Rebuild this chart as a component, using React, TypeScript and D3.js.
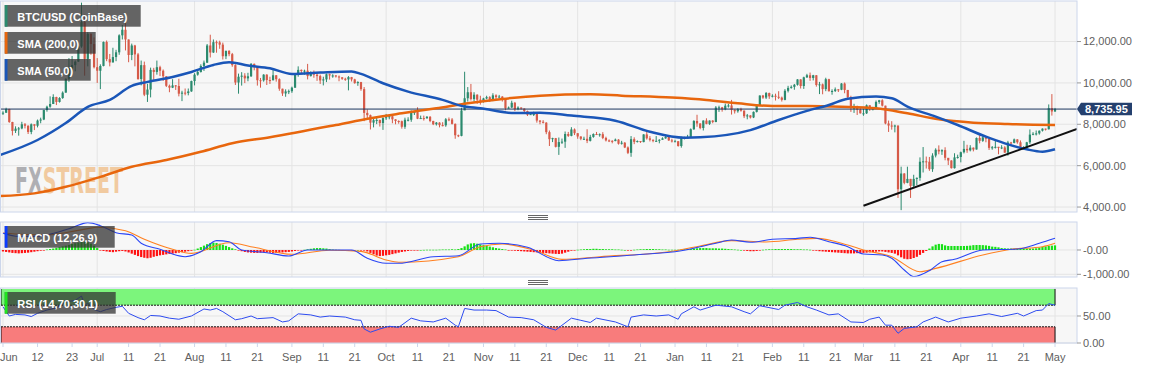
import React from 'react';
import * as d3 from 'd3';

type Row = [number, number, number]; // high, low, close
type Pt = [string, number];

// first session open; every later day opens at the previous close (24/7 market)
const firstOpen = 8550;

const jun19: Row[] = [
  [8630, 8450, 8560], [8800, 8550, 8740], [8750, 8070, 8110], [8120, 7460, 7680], [7900, 7580, 7790],
  [7870, 7450, 7800], [8120, 7760, 8000], [8060, 7800, 7930], [7950, 7530, 7630], [8040, 7520, 8000],
  [8000, 7720, 7930], [8230, 7850, 8180], [8320, 8050, 8230], [8700, 8200, 8690], [8900, 8610, 8850],
  [9350, 8800, 8980], [9450, 8980, 9320], [9330, 8930, 9080], [9310, 9050, 9270], [9590, 9230, 9530],
  [10220, 9530, 10200], [11200, 10050, 10700], [11300, 10550, 10860], [11090, 10560, 11030], [11790, 11020, 11760],
  [13880, 11700, 12940], [13300, 10350, 11160], [12450, 10800, 12370], [12400, 11360, 11880], [12200, 10700, 10760],
];
const jul19: Row[] = [
  [11200, 10000, 10590], [10900, 9700, 10820], [12000, 10800, 11980], [12050, 11050, 11150], [11400, 10800, 10990],
  [11700, 10990, 11250], [11600, 11050, 11480], [12350, 11360, 12300], [12800, 12100, 12570], [13200, 11570, 12100],
  [12100, 11000, 11350], [11900, 11100, 11810], [11840, 10800, 11380], [11450, 10150, 10190], [11080, 9880, 10860],
  [11030, 9360, 9430], [9960, 9080, 9680], [10740, 9300, 10630], [10730, 10150, 10530], [11080, 10400, 10760],
  [10830, 10330, 10590], [10650, 10100, 10320], [10320, 9800, 9860], [9920, 9550, 9770], [10180, 9750, 9880],
  [9900, 9660, 9850], [10200, 9350, 9480], [9620, 9120, 9530], [9730, 9400, 9510], [9730, 9400, 9590],
  [10110, 9570, 10090],
];
const aug19: Row[] = [
  [10470, 9880, 10400], [10660, 10350, 10530], [10900, 10500, 10820], [11080, 10580, 10980], [11880, 10960, 11810],
  [12330, 11230, 11470], [12100, 11450, 11970], [12050, 11460, 11960], [12040, 11650, 11850], [11950, 11130, 11290],
  [11560, 11150, 11550], [11580, 11290, 11390], [11450, 10780, 10860], [10900, 9900, 10020], [10450, 9480, 10300],
  [10520, 9870, 10350], [10470, 9990, 10220], [10490, 10080, 10320], [10960, 10290, 10920], [10940, 10610, 10760],
  [10760, 9870, 10130], [10240, 9770, 10120], [10420, 10060, 10400], [10420, 9900, 10140], [10300, 9950, 10130],
  [10620, 10120, 10370], [10380, 10060, 10180], [10220, 9620, 9720], [9720, 9370, 9490], [9690, 9330, 9590],
  [9680, 9460, 9600],
];
const sep19: Row[] = [
  [9820, 9520, 9770], [10450, 9760, 10390], [10800, 10300, 10630], [10650, 10420, 10580], [10640, 10400, 10590],
  [10920, 10170, 10330], [10560, 10310, 10480], [10600, 10250, 10400], [10480, 10100, 10330], [10400, 9950, 10120],
  [10300, 9880, 10170], [10450, 10040, 10420], [10450, 10160, 10360], [10420, 10250, 10360], [10380, 10260, 10310],
  [10360, 10080, 10270], [10280, 10150, 10200], [10250, 10100, 10170], [10330, 9640, 10280], [10290, 10070, 10170],
  [10200, 9960, 9990], [10080, 9860, 10040], [10050, 9620, 9700], [9800, 8150, 8550], [8720, 8250, 8440],
  [8470, 7750, 8080], [8270, 7850, 8200], [8340, 8010, 8210], [8230, 7890, 8060], [8340, 7730, 8300],
];
const oct19: Row[] = [
  [8500, 8210, 8340], [8400, 8240, 8390], [8420, 8050, 8240], [8240, 8000, 8160], [8190, 8030, 8150],
  [8180, 7790, 7880], [8320, 7780, 8220], [8340, 8140, 8220], [8670, 8120, 8590], [8650, 8450, 8590],
  [8820, 8250, 8270], [8420, 8260, 8300], [8420, 8180, 8290], [8400, 8270, 8360], [8400, 8100, 8160],
  [8170, 7960, 8000], [8110, 7940, 8080], [8100, 7850, 7960], [8100, 7900, 7950], [8300, 7880, 8240],
  [8330, 8150, 8230], [8300, 7990, 8020], [8040, 7300, 7470], [7500, 7380, 7440], [8800, 7420, 8670],
  [10540, 8900, 9260], [9800, 9100, 9550], [9950, 9150, 9220], [9550, 9100, 9430], [9450, 8990, 9190],
  [9380, 8950, 9150],
];
const nov19: Row[] = [
  [9280, 9050, 9250], [9380, 9210, 9310], [9360, 9080, 9200], [9500, 9120, 9400], [9450, 9180, 9310],
  [9420, 9280, 9340], [9360, 9100, 9200], [9220, 8680, 8770], [8860, 8750, 8810], [9140, 8790, 9040],
  [9080, 8640, 8730], [8870, 8680, 8810], [8820, 8710, 8760], [8770, 8570, 8640], [8660, 8400, 8460],
  [8530, 8450, 8490], [8610, 8400, 8500], [8520, 8080, 8180], [8200, 8000, 8120], [8200, 8040, 8080],
  [8100, 7520, 7620], [7700, 6950, 7280], [7350, 7140, 7330], [7340, 6880, 6910], [7360, 6520, 7140],
  [7310, 7050, 7160], [7650, 6860, 7530], [7630, 7390, 7440], [7860, 7420, 7750], [7800, 7480, 7570],
];
const dec19: Row[] = [
  [7570, 7300, 7410], [7420, 7230, 7300], [7400, 7240, 7300], [7760, 7090, 7200], [7490, 7170, 7390],
  [7560, 7350, 7530], [7630, 7480, 7510], [7560, 7400, 7520], [7620, 7280, 7340], [7400, 7170, 7220],
  [7270, 7140, 7200], [7230, 7080, 7190], [7310, 7180, 7260], [7280, 7020, 7060], [7200, 7020, 7110],
  [7140, 6850, 6880], [6930, 6560, 6620], [7430, 6430, 7280], [7370, 7040, 7150], [7220, 7120, 7190],
  [7190, 7100, 7140], [7520, 7130, 7510], [7690, 7260, 7320], [7430, 7170, 7250], [7270, 7130, 7200],
  [7430, 7160, 7200], [7280, 7080, 7250], [7370, 7250, 7320], [7520, 7300, 7390], [7410, 7200, 7220],
  [7300, 7120, 7170],
];
const jan20: Row[] = [
  [7250, 7150, 7180], [7190, 6920, 6950], [7400, 6870, 7340], [7400, 7270, 7350], [7490, 7320, 7360],
  [7800, 7350, 7760], [8200, 7730, 8160], [8460, 7880, 8040], [8050, 7760, 7820], [8190, 7700, 8180],
  [8290, 8000, 8020], [8190, 7970, 8180], [8200, 8050, 8110], [8880, 8100, 8810], [8900, 8600, 8820],
  [8840, 8610, 8720], [9000, 8680, 8900], [8990, 8810, 8910], [9180, 8470, 8700], [8720, 8520, 8630],
  [8780, 8560, 8730], [8800, 8610, 8660], [8670, 8300, 8390], [8500, 8240, 8430], [8440, 8280, 8330],
  [8620, 8300, 8600], [8980, 8570, 8900], [9400, 8880, 9390], [9420, 9230, 9290], [9560, 9220, 9510],
  [9530, 9230, 9350],
];
const feb20: Row[] = [
  [9450, 9300, 9380], [9480, 9150, 9330], [9600, 9220, 9290], [9340, 9100, 9180], [9700, 9160, 9620],
  [9860, 9540, 9760], [9880, 9720, 9810], [9950, 9670, 9910], [10180, 9870, 10170], [10180, 9730, 9850],
  [10300, 9710, 10270], [10440, 10240, 10370], [10500, 10100, 10240], [10390, 10120, 10370], [10380, 9820, 9900],
  [10050, 9460, 9930], [9970, 9450, 9700], [10250, 9600, 10180], [10200, 9580, 9600], [9690, 9430, 9610],
  [9780, 9560, 9690], [9700, 9560, 9670], [9990, 9650, 9970], [10020, 9500, 9660], [9660, 9260, 9310],
  [9380, 8600, 8790], [8990, 8550, 8800], [8900, 8450, 8710], [8800, 8520, 8530],
];
const mar20: Row[] = [
  [8760, 8410, 8530], [8960, 8500, 8920], [8920, 8650, 8760], [8840, 8670, 8760], [9150, 8750, 9080],
  [9180, 8990, 9160], [9210, 8860, 8900], [8900, 8000, 8040], [8180, 7630, 7940], [8150, 7740, 7890],
  [7980, 7610, 7940], [7940, 4440, 4860], [5950, 3850, 5620], [5640, 5100, 5170], [5950, 5150, 5360],
  [5360, 4440, 5020], [5560, 4940, 5360], [5430, 5060, 5410], [6400, 5270, 6190], [6900, 5670, 6210],
  [6440, 5860, 6190], [6420, 5750, 5830], [6600, 5700, 6490], [6840, 6400, 6770], [6980, 6550, 6690],
  [6790, 6520, 6750], [6890, 6260, 6380], [6290, 6030, 6250], [6260, 5860, 5880], [6600, 5860, 6400],
  [6530, 6340, 6420],
];
const apr20: Row[] = [
  [6680, 6160, 6650], [7200, 6590, 6810], [7010, 6620, 6740], [6990, 6690, 6870], [6880, 6690, 6780],
  [7360, 6780, 7340], [7470, 7080, 7200], [7430, 7150, 7370], [7380, 7130, 7300], [7310, 6760, 6860],
  [6950, 6770, 6890], [7190, 6830, 6910], [6910, 6550, 6860], [6990, 6800, 6880], [6940, 6620, 6630],
  [7200, 6480, 7120], [7150, 7010, 7100], [7310, 7080, 7270], [7280, 7060, 7130], [7220, 6790, 6850],
  [6940, 6800, 6860], [7150, 6840, 7130], [7750, 7050, 7500], [7620, 7470, 7540], [7700, 7460, 7560],
  [7700, 7500, 7690], [7800, 7650, 7790], [7790, 7700, 7760], [8960, 7750, 8780], [9460, 8420, 8620],
];
const may20: Row[] = [[8790, 8600, 8735.95]];

const candleMonths: [string, Row[]][] = [
  ['2019-06-01', jun19], ['2019-07-01', jul19], ['2019-08-01', aug19], ['2019-09-01', sep19],
  ['2019-10-01', oct19], ['2019-11-01', nov19], ['2019-12-01', dec19], ['2020-01-01', jan20],
  ['2020-02-01', feb20], ['2020-03-01', mar20], ['2020-04-01', apr20], ['2020-05-01', may20],
];

// MACD histogram, one value per day
const histJun19 = [-60, -80, -100, -120, -130, -140, -130, -120, -110, -90, -70, -50, -30, -10, 20, 40, 60, 90, 120, 150, 180, 210, 250, 280, 310, 330, 340, 320, 260, 180];
const histJul19 = [80, -20, -40, -60, -80, -90, -70, -50, -40, -60, -100, -150, -200, -250, -290, -320, -340, -320, -280, -250, -220, -200, -180, -160, -150, -130, -110, -90, -70, -50, -30];
const histAug19 = [10, 60, 120, 180, 240, 280, 300, 290, 260, 220, 170, 120, 70, 30, -20, -50, -80, -100, -110, -120, -120, -110, -100, -100, -110, -120, -120, -110, -100, -90, -80];
const histSep19 = [-60, -40, -20, -10, 10, 30, 50, 70, 80, 80, 70, 60, 40, 20, 10, 5, 0, -5, -10, -10, -5, 0, -10, -20, -60, -120, -180, -230, -250, -240];
const histOct19 = [-220, -200, -170, -140, -110, -80, -60, -40, -20, -10, -5, 0, 5, 10, 10, 10, 10, 15, 20, 20, 20, 30, 20, 40, 80, 150, 230, 270, 280, 260, 230];
const histNov19 = [200, 170, 140, 110, 80, 60, 40, 20, -10, -20, -30, -40, -50, -60, -70, -80, -90, -100, -110, -120, -130, -140, -150, -160, -165, -150, -110, -70, -30, -10];
const histDec19 = [10, 20, 30, 40, 40, 50, 50, 40, 40, 30, 30, 30, 20, 20, 10, 0, -20, -10, 10, 20, 30, 30, 40, 40, 40, 30, 30, 20, 20, 10, 10];
const histJan20 = [10, 10, 20, 30, 40, 50, 60, 70, 80, 80, 80, 70, 70, 70, 60, 60, 50, 40, 30, 20, 10, 0, -20, -40, -50, -50, -40, -20, 10, 20, 30];
const histFeb20 = [30, 40, 40, 40, 40, 40, 40, 30, 30, 30, 20, 20, 10, -20, -30, -50, -60, -70, -80, -90, -100, -110, -120, -130, -140, -140, -140, -130, -120];
const histMar20 = [-120, -110, -100, -90, -70, -60, -60, -80, -100, -120, -150, -220, -300, -360, -380, -370, -330, -280, -200, -120, -40, 60, 150, 220, 250, 240, 190, 165, 165, 165, 165];
const histApr20 = [165, 165, 170, 180, 200, 205, 205, 200, 190, 170, 140, 130, 110, 80, 70, 60, 60, 50, 50, 50, 60, 60, 60, 60, 70, 100, 130, 150, 170, 180];
const histMay20 = [190];

const histMonths: [string, number[]][] = [
  ['2019-06-01', histJun19], ['2019-07-01', histJul19], ['2019-08-01', histAug19], ['2019-09-01', histSep19],
  ['2019-10-01', histOct19], ['2019-11-01', histNov19], ['2019-12-01', histDec19], ['2020-01-01', histJan20],
  ['2020-02-01', histFeb20], ['2020-03-01', histMar20], ['2020-04-01', histApr20], ['2020-05-01', histMay20],
];

const sma50: Pt[] = [
  ['2019-05-31', 6510], ['2019-06-12', 7240], ['2019-06-21', 8060], ['2019-06-28', 8840], ['2019-07-05', 9180],
  ['2019-07-12', 9855], ['2019-07-17', 10050], ['2019-07-25', 10290], ['2019-07-31', 10530], ['2019-08-07', 10870],
  ['2019-08-12', 11000], ['2019-08-18', 10840], ['2019-08-25', 10710], ['2019-09-01', 10435], ['2019-09-10', 10500],
  ['2019-09-20', 10550], ['2019-09-23', 10435], ['2019-09-30', 9985], ['2019-10-08', 9580], ['2019-10-19', 9180],
  ['2019-10-25', 8890], ['2019-10-31', 8775], ['2019-11-11', 8540], ['2019-11-19', 8560], ['2019-11-29', 8420],
  ['2019-12-13', 8175], ['2019-12-24', 7640], ['2020-01-04', 7350], ['2020-01-09', 7370], ['2020-01-25', 7720],
  ['2020-02-03', 8210], ['2020-02-12', 8650], ['2020-02-19', 8935], ['2020-02-25', 9240], ['2020-03-05', 9340],
  ['2020-03-10', 9260], ['2020-03-15', 8850], ['2020-03-24', 8370], ['2020-03-31', 7965], ['2020-04-09', 7400],
  ['2020-04-15', 7080], ['2020-04-22', 6790], ['2020-04-27', 6675], ['2020-05-01', 6790],
];
const sma200: Pt[] = [
  ['2019-05-31', 4530], ['2019-06-11', 4660], ['2019-06-21', 4980], ['2019-07-02', 5460], ['2019-07-12', 5945],
  ['2019-07-23', 6270], ['2019-08-03', 6670], ['2019-08-13', 7080], ['2019-08-25', 7375], ['2019-09-15', 7965],
  ['2019-09-26', 8290], ['2019-10-06', 8530], ['2019-10-17', 8775], ['2019-10-27', 9015], ['2019-11-07', 9225],
  ['2019-11-19', 9385], ['2019-12-05', 9450], ['2019-12-15', 9385], ['2019-12-31', 9290], ['2020-01-11', 9175],
  ['2020-01-21', 9015], ['2020-02-01', 8885], ['2020-02-12', 8885], ['2020-02-23', 8850], ['2020-03-05', 8775],
  ['2020-03-15', 8530], ['2020-03-25', 8240], ['2020-04-05', 8080], ['2020-04-16', 8015], ['2020-05-01', 7965],
];
const macdLine: Pt[] = [
  ['2019-06-01', 690], ['2019-06-06', 560], ['2019-06-12', 560], ['2019-06-18', 720], ['2019-06-23', 920],
  ['2019-06-28', 1125], ['2019-07-02', 1000], ['2019-07-07', 712], ['2019-07-12', 617], ['2019-07-15', 275],
  ['2019-07-21', 29], ['2019-07-29', -275], ['2019-08-03', -70], ['2019-08-08', 384], ['2019-08-12', 342],
  ['2019-08-16', 0], ['2019-08-24', -110], ['2019-08-31', -247], ['2019-09-06', 0], ['2019-09-20', 0],
  ['2019-09-25', -342], ['2019-10-01', -548], ['2019-10-05', -548], ['2019-10-16', -275], ['2019-10-24', -234],
  ['2019-10-31', 247], ['2019-11-06', 275], ['2019-11-15', 110], ['2019-11-25', -440], ['2019-12-04', -342],
  ['2019-12-19', -205], ['2020-01-03', -29], ['2020-01-14', 275], ['2020-01-19', 411], ['2020-01-25', 316],
  ['2020-02-01', 440], ['2020-02-09', 480], ['2020-02-13', 522], ['2020-02-19', 342], ['2020-02-25', 137],
  ['2020-03-01', -165], ['2020-03-07', -205], ['2020-03-10', -342], ['2020-03-14', -823], ['2020-03-17', -1097],
  ['2020-03-22', -850], ['2020-03-26', -480], ['2020-03-30', -384], ['2020-04-08', 0], ['2020-04-19', 40],
  ['2020-04-26', 275], ['2020-05-01', 480],
];
const signalLine: Pt[] = [
  ['2019-06-01', 700], ['2019-06-08', 640], ['2019-06-15', 620], ['2019-06-22', 740], ['2019-06-28', 880],
  ['2019-07-01', 934], ['2019-07-10', 794], ['2019-07-16', 440], ['2019-07-25', 29], ['2019-07-31', -137],
  ['2019-08-12', 300], ['2019-08-20', 110], ['2019-09-01', -177], ['2019-09-13', -8], ['2019-09-23', -58],
  ['2019-10-01', -411], ['2019-10-05', -505], ['2019-10-24', -275], ['2019-10-31', 137], ['2019-11-07', 247],
  ['2019-11-17', 0], ['2019-11-26', -384], ['2019-12-08', -275], ['2019-12-30', -70], ['2020-01-09', 165],
  ['2020-01-19', 384], ['2020-01-30', 330], ['2020-02-09', 440], ['2020-02-15', 480], ['2020-02-25', 205],
  ['2020-03-01', 0], ['2020-03-10', -275], ['2020-03-19', -892], ['2020-03-24', -755], ['2020-04-08', -205],
  ['2020-04-17', 29], ['2020-04-27', 137], ['2020-05-01', 275],
];
const rsiLine: Pt[] = [
  ['2019-06-01', 67], ['2019-06-03', 50], ['2019-06-05', 53], ['2019-06-08', 52], ['2019-06-10', 49],
  ['2019-06-12', 55], ['2019-06-15', 61], ['2019-06-18', 65], ['2019-06-21', 76], ['2019-06-24', 79],
  ['2019-06-26', 87], ['2019-06-27', 70], ['2019-06-28', 74], ['2019-06-30', 62], ['2019-07-02', 58],
  ['2019-07-04', 62], ['2019-07-07', 66], ['2019-07-09', 68], ['2019-07-11', 55], ['2019-07-14', 47],
  ['2019-07-16', 43], ['2019-07-18', 51], ['2019-07-21', 50], ['2019-07-24', 46], ['2019-07-27', 44],
  ['2019-07-31', 50], ['2019-08-04', 63], ['2019-08-06', 61], ['2019-08-08', 64], ['2019-08-10', 58],
  ['2019-08-14', 43], ['2019-08-16', 45], ['2019-08-19', 50], ['2019-08-21', 45], ['2019-08-26', 47],
  ['2019-08-29', 39], ['2019-08-31', 41], ['2019-09-03', 54], ['2019-09-07', 52], ['2019-09-10', 48],
  ['2019-09-13', 50], ['2019-09-18', 48], ['2019-09-21', 43], ['2019-09-23', 42], ['2019-09-24', 26],
  ['2019-09-26', 20], ['2019-09-29', 26], ['2019-10-02', 31], ['2019-10-05', 29], ['2019-10-09', 46],
  ['2019-10-12', 41], ['2019-10-16', 39], ['2019-10-20', 46], ['2019-10-23', 33], ['2019-10-24', 30],
  ['2019-10-26', 64], ['2019-10-29', 61], ['2019-11-02', 61], ['2019-11-05', 60], ['2019-11-09', 48],
  ['2019-11-13', 47], ['2019-11-17', 43], ['2019-11-21', 29], ['2019-11-24', 24], ['2019-11-29', 46],
  ['2019-12-02', 42], ['2019-12-05', 38], ['2019-12-07', 46], ['2019-12-13', 39], ['2019-12-17', 30],
  ['2019-12-18', 48], ['2019-12-22', 52], ['2019-12-26', 50], ['2019-12-30', 52], ['2020-01-02', 44],
  ['2020-01-03', 54], ['2020-01-07', 67], ['2020-01-09', 61], ['2020-01-14', 70], ['2020-01-19', 67],
  ['2020-01-23', 58], ['2020-01-25', 54], ['2020-01-28', 69], ['2020-02-03', 62], ['2020-02-05', 70],
  ['2020-02-09', 75], ['2020-02-12', 67], ['2020-02-15', 61], ['2020-02-19', 52], ['2020-02-22', 54],
  ['2020-02-26', 39], ['2020-03-01', 38], ['2020-03-03', 44], ['2020-03-06', 48], ['2020-03-08', 33],
  ['2020-03-10', 33], ['2020-03-12', 18], ['2020-03-14', 27], ['2020-03-18', 30], ['2020-03-20', 39],
  ['2020-03-24', 48], ['2020-03-28', 39], ['2020-04-01', 46], ['2020-04-06', 50], ['2020-04-10', 54],
  ['2020-04-14', 49], ['2020-04-19', 55], ['2020-04-21', 50], ['2020-04-25', 60], ['2020-04-27', 61],
  ['2020-04-29', 73], ['2020-05-01', 70],
];
const trendLine: Pt[] = [['2020-03-01', 4060], ['2020-05-08', 7770]];
const lastPrice = 8735.95;

const priceTicks = [4000, 6000, 8000, 10000, 12000];
const macdTicks = [0, -1000];
const macdTickLabels = ['-0.00', '-1,000.00'];
const rsiTicks = [0, 50];
const rsiOverbought = 70;
const rsiOversold = 30;
const xTickDates = [
  '2019-06-01', '2019-06-12', '2019-06-23', '2019-07-01', '2019-07-11', '2019-07-21', '2019-08-01', '2019-08-11',
  '2019-08-21', '2019-09-01', '2019-09-11', '2019-09-21', '2019-10-01', '2019-10-11', '2019-10-21', '2019-11-01',
  '2019-11-11', '2019-11-21', '2019-12-01', '2019-12-11', '2019-12-21', '2020-01-01', '2020-01-11', '2020-01-21',
  '2020-02-01', '2020-02-11', '2020-02-21', '2020-03-01', '2020-03-11', '2020-03-21', '2020-04-01', '2020-04-11',
  '2020-04-21', '2020-05-01',
];
const legendMain = [
  { label: 'BTC/USD (CoinBase)', color: '#2b8a6e', w: 136 },
  { label: 'SMA (200,0)', color: '#e8660d', w: 91 },
  { label: 'SMA (50,0)', color: '#1a56b8', w: 86 },
];

const FONT = '"Liberation Sans", Arial, Helvetica, sans-serif';
const UP = '#2b8a6e';
const DOWN = '#d65a48';
const PLOT_R = 1077;
const main = { top: 1, bottom: 212 };
const macdP = { top: 222, bottom: 277 };
const rsiP = { top: 288, bottom: 343 };

const parse = d3.utcParse('%Y-%m-%d');
const pd = (s: string) => parse(s) as Date;

export default function App() {
  const candles: { date: Date; open: number; high: number; low: number; close: number }[] = [];
  let prev = firstOpen;
  candleMonths.forEach(([start, rows]) => {
    rows.forEach(([high, low, close], i) => {
      candles.push({ date: d3.utcDay.offset(pd(start), i), open: prev, high, low, close });
      prev = close;
    });
  });
  const hist: { date: Date; value: number }[] = [];
  histMonths.forEach(([start, vals]) => vals.forEach((value, i) => hist.push({ date: d3.utcDay.offset(pd(start), i), value })));

  const x = d3.scaleUtc()
    .domain([new Date(Date.UTC(2019, 4, 31, 1, 5)), new Date(Date.UTC(2020, 4, 8))])
    .range([0, PLOT_R]);
  const yP = d3.scaleLinear().domain([3760, 13960]).range([main.bottom, main.top]);
  const yM = d3.scaleLinear().domain([-1111, 1152]).range([macdP.bottom, macdP.top]);
  const yR = d3.scaleLinear().domain([0, 101.85]).range([rsiP.bottom, rsiP.top]);

  const lineOf = (y: d3.ScaleLinear<number, number>, curve: d3.CurveFactory) =>
    d3.line<Pt>().x(d => x(pd(d[0]))).y(d => y(d[1])).curve(curve);

  const months = d3.utcMonth.range(pd('2019-06-01'), pd('2020-05-02'));
  const fmtPrice = d3.format(',.2f');
  const fmtTick = (d: Date) => (d.getUTCDate() === 1 ? d3.utcFormat('%b')(d) : d3.utcFormat('%-d')(d));
  const firstX = x(candles[0].date);
  const lastX = x(candles[candles.length - 1].date);
  const yLast = yP(lastPrice);

  const panel = (p: { top: number; bottom: number }, id: string) => (
    <g>
      <clipPath id={id}><rect x={0} y={p.top} width={PLOT_R} height={p.bottom - p.top} /></clipPath>
      <rect x={0.5} y={p.top} width={PLOT_R - 0.5} height={p.bottom - p.top} fill="#f7f7f7" />
      {months.map((m, i) => (
        <line key={i} x1={x(m)} x2={x(m)} y1={p.top} y2={p.bottom} stroke="#e4e4e4" />
      ))}
    </g>
  );
  const border = (p: { top: number; bottom: number }) => (
    <rect x={0.5} y={p.top} width={PLOT_R - 0.5} height={p.bottom - p.top} fill="none" stroke="#ccd6eb" />
  );
  const handle = (cy: number) => (
    <g stroke="#666" strokeWidth={1}>
      {[-2, 0, 2].map(o => <line key={o} x1={528} x2={548} y1={cy + o + 0.5} y2={cy + o + 0.5} />)}
    </g>
  );
  const legendBox = (label: string, color: string, top: number, w: number, key: string) => (
    <g key={key}>
      <rect x={4.7} y={top} width={w} height={21.7} fill="#333" fillOpacity={0.75} />
      <rect x={4.7} y={top} width={2.8} height={21.7} fill={color} />
      <text x={17.3} y={top + 16} fill="#fff" fontSize={11} fontWeight="bold" fontFamily={FONT}>{label}</text>
    </g>
  );

  return (
    <svg width={1153} height={370} style={{ position: 'absolute', left: 0, top: 0, background: '#fff' }}>
      <defs>
        {/* watermark: grey "FX" then orange "STREET" in one text run */}
        <linearGradient id="fx-mark" gradientUnits="userSpaceOnUse" x1={15} x2={123} y1={0} y2={0}>
          <stop offset="0.232" stopColor="#8a8a90" />
          <stop offset="0.232" stopColor="#eeb372" />
        </linearGradient>
      </defs>
      {/* ---------- main price panel ---------- */}
      {panel(main, 'clip-main')}
      {priceTicks.map(t => (
        <line key={t} x1={0} x2={PLOT_R} y1={yP(t)} y2={yP(t)} stroke="#e4e4e4" />
      ))}
      <text x={15} y={193} fontFamily='"DejaVu Sans Condensed", "DejaVu Sans", sans-serif' fontWeight="bold" fontSize={36}
        textLength={108} lengthAdjust="spacingAndGlyphs" opacity={0.65} fill="url(#fx-mark)">FXSTREET</text>
      <g clipPath="url(#clip-main)">
        {candles.map((c, i) => {
          const cx = x(c.date);
          const col = c.close >= c.open ? UP : DOWN;
          const yTop = yP(Math.max(c.open, c.close));
          const yBot = yP(Math.min(c.open, c.close));
          return (
            <g key={i}>
              <line x1={cx} x2={cx} y1={yP(c.high)} y2={yP(c.low)} stroke={col} strokeWidth={1} />
              <rect x={cx - 1.1} y={yTop} width={2.2} height={Math.max(1, yBot - yTop)} fill={col} />
            </g>
          );
        })}
        <line x1={0} x2={PLOT_R} y1={yLast} y2={yLast} stroke="#1c355e" strokeWidth={1} />
        <path d={lineOf(yP, d3.curveMonotoneX)(sma200) || ''} fill="none" stroke="#e8660d" strokeWidth={2.5} />
        <path d={lineOf(yP, d3.curveMonotoneX)(sma50) || ''} fill="none" stroke="#1a56b8" strokeWidth={2.5} />
        <path d={lineOf(yP, d3.curveLinear)(trendLine) || ''} fill="none" stroke="#111" strokeWidth={2} />
      </g>
      {border(main)}
      {legendMain.map((l, i) => legendBox(l.label, l.color, 5 + i * 27, l.w, 'lg' + i))}
      {/* right price axis */}
      <g fontFamily={FONT} fontSize={11} fill="#606060">
        {priceTicks.map(t => (
          <g key={t}>
            <line x1={PLOT_R} x2={PLOT_R + 4} y1={yP(t)} y2={yP(t)} stroke="#999" />
            <text x={1083} y={yP(t)} dy="0.35em">{fmtPrice(t)}</text>
          </g>
        ))}
      </g>
      <path d={`M${PLOT_R},${yLast} L${PLOT_R + 4},${yLast - 6.3} H1132 V${yLast + 6.3} H${PLOT_R + 4} Z`} fill="#24406e" />
      <text x={1085} y={yLast} dy="0.36em" fill="#fff" fontSize={11} fontWeight="bold" fontFamily={FONT}>{fmtPrice(lastPrice)}</text>

      {handle(217)}

      {/* ---------- MACD panel ---------- */}
      {panel(macdP, 'clip-macd')}
      {macdTicks.map(t => (
        <line key={t} x1={0} x2={PLOT_R} y1={yM(t)} y2={yM(t)} stroke="#e4e4e4" />
      ))}
      <g clipPath="url(#clip-macd)">
        {hist.map((h, i) => (
          <rect key={i} x={x(h.date) - 1.1} width={2.2}
            y={Math.min(yM(0), yM(h.value))} height={Math.max(0.6, Math.abs(yM(h.value) - yM(0)))}
            fill={h.value >= 0 ? '#16e016' : '#ff1111'} />
        ))}
        <path d={lineOf(yM, d3.curveMonotoneX)(signalLine) || ''} fill="none" stroke="#ff8122" strokeWidth={1.1} />
        <path d={lineOf(yM, d3.curveMonotoneX)(macdLine) || ''} fill="none" stroke="#2a45f5" strokeWidth={1.1} />
      </g>
      {border(macdP)}
      {legendBox('MACD (12,26,9)', '#0b3cff', 226, 110, 'lg-macd')}
      <g fontFamily={FONT} fontSize={11} fill="#606060">
        {macdTicks.map((t, i) => (
          <g key={t}>
            <line x1={PLOT_R} x2={PLOT_R + 4} y1={yM(t)} y2={yM(t)} stroke="#999" />
            <text x={1083} y={yM(t)} dy="0.35em">{macdTickLabels[i]}</text>
          </g>
        ))}
      </g>

      {handle(282)}

      {/* ---------- RSI panel ---------- */}
      {panel(rsiP, 'clip-rsi')}
      {rsiTicks.map(t => (
        <line key={t} x1={0} x2={PLOT_R} y1={yR(t)} y2={yR(t)} stroke="#e4e4e4" />
      ))}
      <g clipPath="url(#clip-rsi)">
        <rect x={firstX - 2} y={yR(100)} width={lastX - firstX + 2} height={yR(rsiOverbought) - yR(100)} fill="#7cf57c" />
        <rect x={firstX - 2} y={yR(rsiOversold)} width={lastX - firstX + 2} height={yR(0) - yR(rsiOversold)} fill="#f87c7c" />
        {[rsiOverbought, rsiOversold].map(l => (
          <line key={l} x1={firstX - 2} x2={lastX} y1={yR(l)} y2={yR(l)} stroke="#111" strokeDasharray="2,1" />
        ))}
        {[firstX - 2, lastX].map((lx, i) => (
          <g key={i}>
            <line x1={lx} x2={lx} y1={yR(100)} y2={yR(rsiOverbought)} stroke="#111" />
            <line x1={lx} x2={lx} y1={yR(rsiOversold)} y2={yR(0)} stroke="#111" />
          </g>
        ))}
        <path d={lineOf(yR, d3.curveLinear)(rsiLine) || ''} fill="none" stroke="#2d4bf0" strokeWidth={1} />
      </g>
      {border(rsiP)}
      {legendBox('RSI (14,70,30,1)', '#1ee61e', 292, 111, 'lg-rsi')}
      <g fontFamily={FONT} fontSize={11} fill="#606060">
        {rsiTicks.map(t => (
          <g key={t}>
            <line x1={PLOT_R} x2={PLOT_R + 4} y1={yR(t)} y2={yR(t)} stroke="#999" />
            <text x={1083} y={yR(t)} dy="0.35em">{fmtPrice(t)}</text>
          </g>
        ))}
      </g>

      {/* ---------- date axis ---------- */}
      <g fontFamily={FONT} fontSize={11} fill="#606060">
        {xTickDates.map(s => {
          const d = pd(s);
          const tx = x(d);
          const edge = tx < 10;
          return (
            <g key={s}>
              <line x1={tx} x2={tx} y1={rsiP.bottom} y2={rsiP.bottom + 4} stroke="#ccd6eb" />
              <text x={edge ? 0 : tx} y={361} textAnchor={edge ? 'start' : 'middle'}>{fmtTick(d)}</text>
            </g>
          );
        })}
      </g>
    </svg>
  );
}
